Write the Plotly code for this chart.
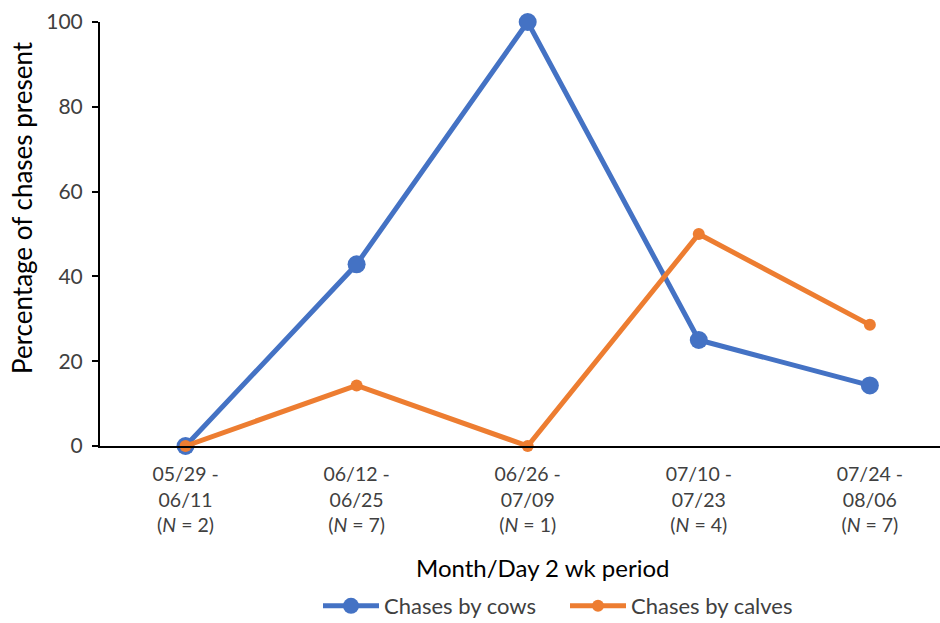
import plotly.graph_objects as go

# Two-week periods and sample sizes
periods = ["05/29 -<br>06/11", "06/12 -<br>06/25", "06/26 -<br>07/09",
           "07/10 -<br>07/23", "07/24 -<br>08/06"]
sample_n = [2, 7, 1, 4, 7]

# Percentage of chases present per period
cows = [0, 42.857, 100, 25, 14.286]
calves = [0, 14.286, 0, 50, 28.571]

y_ticks = [0, 20, 40, 60, 80, 100]

tick_text = [f"{p}<br>(<i>N</i> = {n})" for p, n in zip(periods, sample_n)]
x_idx = list(range(len(periods)))

BLUE = "#4472C4"
ORANGE = "#ED7D31"
FONT = "Lato"

fig = go.Figure()
fig.add_trace(go.Scatter(
    x=x_idx, y=cows, name="Chases by cows", mode="lines+markers",
    line=dict(color=BLUE, width=5),
    marker=dict(color=BLUE, size=18),
    cliponaxis=False,
))
fig.add_trace(go.Scatter(
    x=x_idx, y=calves, name="Chases by calves", mode="lines+markers",
    line=dict(color=ORANGE, width=5),
    marker=dict(color=ORANGE, size=12),
    cliponaxis=False,
))

fig.update_layout(
    width=940, height=623,
    margin=dict(l=100, r=0, t=22, b=177, autoexpand=False),
    paper_bgcolor="white", plot_bgcolor="white",
    font=dict(family=FONT, size=16, color="#404040"),
    showlegend=True,
    legend=dict(
        orientation="h", x=(318 - 100) / 840, y=(446 - 606) / 424,
        xanchor="left", yanchor="middle",
        font=dict(family=FONT, size=22, color="#404040"),
        itemwidth=56, entrywidth=176, entrywidthmode="pixels",
        bgcolor="rgba(0,0,0,0)",
    ),
    xaxis=dict(
        range=[-0.5, 4.41], tickmode="array", tickvals=x_idx, ticktext=tick_text,
        showline=True, linecolor="black", linewidth=2,
        showgrid=False, zeroline=False, ticks="", automargin=False,
        ticklabelstandoff=10,
        tickfont=dict(family=FONT, size=19.5, color="#404040"),
    ),
    yaxis=dict(
        range=[0, 100], tickvals=y_ticks,
        showline=True, linecolor="black", linewidth=2,
        showgrid=False, zeroline=False, automargin=False,
        ticks="outside", ticklen=6, tickwidth=2, tickcolor="black",
        ticklabelstandoff=5,
        tickfont=dict(family=FONT, size=21, color="#404040"),
    ),
    annotations=[
        dict(text="Month/Day 2 wk period", xref="paper", yref="paper",
             x=(543 - 100) / 840, y=(446 - 567) / 424,
             xanchor="center", yanchor="middle", showarrow=False,
             font=dict(family=FONT, size=24, color="black")),
        dict(text="Percentage of chases present", xref="paper", yref="paper",
             x=(22 - 100) / 840, y=(446 - 208) / 424, textangle=-90,
             xanchor="center", yanchor="middle", showarrow=False,
             font=dict(family=FONT, size=26, color="black")),
    ],
)

fig.write_html("out.html")
